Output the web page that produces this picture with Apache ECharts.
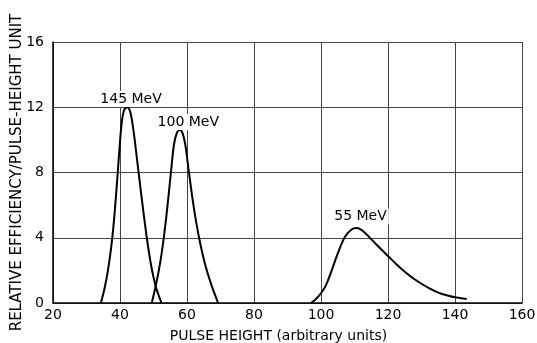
<!DOCTYPE html>
<html>
<head>
<meta charset="utf-8">
<script src="https://cdn.jsdelivr.net/npm/echarts@6/dist/echarts.min.js"></script>
<style>html,body{margin:0;padding:0;background:#fff}#c{width:537px;height:343px}</style>
</head>
<body>
<div id="c"></div>
<script>
var xTicks = [20, 40, 60, 80, 100, 120, 140, 160];
var yTicks = [0, 4, 8, 12, 16];
var curve145 = [[34.3,0],[35.4,0.9],[36.4,2],[37.3,3.3],[38,4.6],[38.7,6.3],[39.4,8.2],[40,9.9],[40.6,11.2],[41.3,11.85],[42.2,12],[43.2,11.6],[44.2,10.3],[45.2,8.6],[46.5,6.4],[48,4],[49.3,2.3],[50.7,1],[52.4,0]];
var curve100 = [[49.5,0],[50.5,0.9],[51.5,1.9],[52.4,3],[53.2,4.2],[54.2,6],[55.2,8],[56.1,9.7],[57,10.45],[57.9,10.6],[58.7,10.4],[59.5,9.7],[60.4,8.3],[61.5,6.6],[62.7,5],[64,3.6],[65.5,2.3],[67.3,1.1],[69.3,0]];
var curve55 = [[97,0],[98.5,0.25],[100,0.6],[101.5,1.1],[103.2,2.0],[105.2,3.15],[107.2,4.07],[109.2,4.52],[110.6,4.6],[111.8,4.52],[113,4.32],[114.5,4.02],[116.1,3.68],[118,3.28],[120,2.88],[122.5,2.38],[125,1.92],[127.5,1.52],[130,1.18],[132.5,0.88],[135,0.64],[137.5,0.47],[140,0.35],[143.5,0.25]];
var labels = [
  {name: '145 MeV', coord: [43.3, 12.5]},
  {name: '100 MeV', coord: [60.4, 11.1]},
  {name: '55 MeV', coord: [111.8, 5.3]}
];
var FONT = 'DejaVu Sans';
function lineSeries(data, lbl) {
  return {
    type: 'line', data: data, smooth: 0.3, showSymbol: false, symbol: 'none',
    lineStyle: {color: '#000', width: 2}, silent: true, animation: false,
    markPoint: {
      symbol: 'rect', symbolSize: 0, animation: false,
      data: [{name: lbl.name, coord: lbl.coord, value: lbl.name}],
      label: {show: true, position: 'inside', formatter: lbl.name, color: '#000',
        fontFamily: FONT, fontSize: 14, backgroundColor: '#fff', padding: [1, 2]}
    }
  };
}
var chart = echarts.init(document.getElementById('c'), null, {renderer: 'canvas'});
chart.setOption({
  animation: false,
  backgroundColor: '#fff',
  grid: {left: 53, right: 15, top: 42, bottom: 40, containLabel: false, outerBoundsMode: 'none'},
  xAxis: {
    type: 'value', min: xTicks[0], max: xTicks[xTicks.length - 1], interval: 20,
    name: 'PULSE HEIGHT (arbitrary units)', nameLocation: 'middle', nameGap: 26,
    nameMoveOverlap: false,
    nameTextStyle: {fontFamily: FONT, fontSize: 14, color: '#000', padding: [0, 18, 0, 0]},
    axisLine: {lineStyle: {color: '#000', width: 1.5}},
    axisTick: {show: false},
    axisLabel: {fontFamily: FONT, fontSize: 14, color: '#000', margin: 5},
    splitLine: {show: true, lineStyle: {color: '#444', width: 1}}
  },
  yAxis: {
    type: 'value', min: yTicks[0], max: yTicks[yTicks.length - 1], interval: 4,
    name: 'RELATIVE EFFICIENCY/PULSE-HEIGHT UNIT', nameLocation: 'middle', nameGap: 28,
    nameMoveOverlap: false,
    nameTextStyle: {fontFamily: FONT, fontSize: 15, color: '#000'},
    axisLine: {lineStyle: {color: '#000', width: 1.5}},
    axisTick: {show: false},
    axisLabel: {fontFamily: FONT, fontSize: 14, color: '#000', margin: 9},
    splitLine: {show: true, lineStyle: {color: '#444', width: 1}}
  },
  series: [
    lineSeries(curve145, labels[0]),
    lineSeries(curve100, labels[1]),
    lineSeries(curve55, labels[2])
  ]
});
</script>
</body>
</html>
